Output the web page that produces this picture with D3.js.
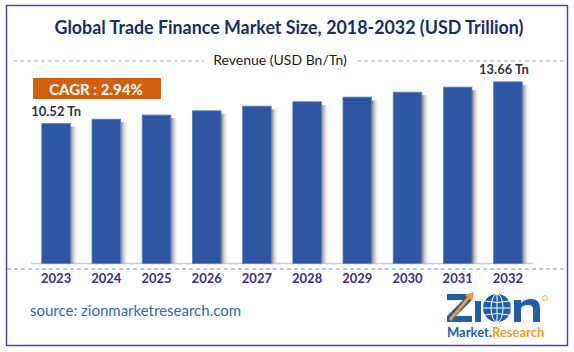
<!DOCTYPE html>
<html>
<head>
<meta charset="utf-8">
<script src="https://cdn.jsdelivr.net/npm/d3@7"></script>
<style>
  body { margin: 0; background: #fff; }
  svg { display: block; }
</style>
</head>
<body>
<div id="chart"></div>
<script>
// data
const years = ["2023", "2024", "2025", "2026", "2027", "2028", "2029", "2030", "2031", "2032"];
const revenue = [10.52, 10.85, 11.16, 11.48, 11.83, 12.16, 12.51, 12.88, 13.26, 13.66];
const valueLabels = [{ i: 0, text: "10.52 Tn" }, { i: 9, text: "13.66 Tn" }];
const titleText = "Global Trade Finance Market Size, 2018-2032 (USD Trillion)";
const subtitleText = "Revenue (USD Bn/Tn)";
const cagrText = "CAGR : 2.94%";
const sourceText = "source: zionmarketresearch.com";

const width = 574, height = 352;
const font = "Lato, 'Open Sans', sans-serif";

const svg = d3.select("#chart").append("svg")
  .attr("width", width)
  .attr("height", height);

const defs = svg.append("defs");
// bar shadow on the right
const grad = defs.append("linearGradient").attr("id", "shadow")
  .attr("x1", "0%").attr("x2", "100%");
grad.append("stop").attr("offset", "0%").attr("stop-color", "#6d6d6d").attr("stop-opacity", 0.9);
grad.append("stop").attr("offset", "100%").attr("stop-color", "#ffffff").attr("stop-opacity", 0);

// outer border
svg.append("rect")
  .attr("x", 6.5).attr("y", 5.5)
  .attr("width", 561).attr("height", 340)
  .attr("fill", "none")
  .attr("stroke", "#5a3ea3")
  .attr("stroke-width", 1.5);

// title
svg.append("text")
  .attr("x", 289).attr("y", 34)
  .attr("text-anchor", "middle")
  .attr("font-family", font)
  .attr("font-weight", "bold")
  .attr("font-size", "19px")
  .attr("fill", "#172e6b")
  .attr("textLength", 469)
  .attr("lengthAdjust", "spacingAndGlyphs")
  .text(titleText);

// subtitle with dashed lines
svg.append("text")
  .attr("x", 280).attr("y", 65)
  .attr("text-anchor", "middle")
  .attr("font-family", font)
  .attr("font-size", "14px")
  .attr("fill", "#1a1a1a")
  .text(subtitleText);

[[13, 204], [357, 564]].forEach(([a, b]) => {
  svg.append("line")
    .attr("x1", a).attr("x2", b)
    .attr("y1", 61).attr("y2", 61)
    .attr("stroke", "#8fb0e3")
    .attr("stroke-width", 1.2)
    .attr("stroke-dasharray", "4,3");
});

// scales
const x = d3.scaleBand()
  .domain(years)
  .range([31, 533])
  .paddingInner(0.43)
  .paddingOuter(0.215);

const y = d3.scaleLinear()
  .domain([0, 14])
  .range([263.5, 263.5 - 14 * 13.3]);

// baseline
svg.append("line")
  .attr("x1", 31).attr("x2", 533)
  .attr("y1", 263.5).attr("y2", 263.5)
  .attr("stroke", "#d0d0d0")
  .attr("stroke-width", 1.5);

// shadows
svg.append("g").selectAll("rect")
  .data(revenue)
  .join("rect")
  .attr("x", (d, i) => x(years[i]) + x.bandwidth())
  .attr("y", (d) => y(d) + 3)
  .attr("width", 8)
  .attr("height", (d) => y(0) - y(d) - 3)
  .attr("fill", "url(#shadow)");

// bars
svg.append("g").selectAll("rect")
  .data(revenue)
  .join("rect")
  .attr("x", (d, i) => x(years[i]))
  .attr("y", (d) => y(d))
  .attr("width", x.bandwidth())
  .attr("height", (d) => y(0) - y(d))
  .attr("fill", "#2f56a5")
  .attr("stroke", "#5b7fc4")
  .attr("stroke-width", 0.8);

// value labels
svg.append("g").selectAll("text")
  .data(valueLabels)
  .join("text")
  .attr("x", (d) => x(years[d.i]) + x.bandwidth() / 2 - (d.i === 9 ? 4 : 0))
  .attr("y", (d) => y(revenue[d.i]) - 8)
  .attr("text-anchor", "middle")
  .attr("font-family", font)
  .attr("font-weight", "bold")
  .attr("font-size", "13px")
  .attr("fill", "#333")
  .text((d) => d.text);

// CAGR box
svg.append("rect")
  .attr("x", 33).attr("y", 78)
  .attr("width", 128).attr("height", 21)
  .attr("fill", "#d2600e");
svg.append("text")
  .attr("x", 96).attr("y", 94.5)
  .attr("text-anchor", "middle")
  .attr("font-family", font)
  .attr("font-weight", "bold")
  .attr("font-size", "15px")
  .attr("fill", "#fff")
  .text(cagrText);

// dashed line under axis
svg.append("line")
  .attr("x1", 7).attr("x2", 567)
  .attr("y1", 269).attr("y2", 269)
  .attr("stroke", "#6f97d8")
  .attr("stroke-width", 1.2)
  .attr("stroke-dasharray", "4,3");

// x axis labels
const xAxis = svg.append("g")
  .attr("transform", "translate(0,270)")
  .call(d3.axisBottom(x).tickSize(0).tickPadding(4));
xAxis.select(".domain").remove();
xAxis.selectAll("text")
  .attr("font-family", font)
  .attr("font-weight", "bold")
  .attr("font-size", "13px")
  .attr("fill", "#3b2d8c");

// source
svg.append("text")
  .attr("x", 30).attr("y", 316)
  .attr("font-family", font)
  .attr("font-size", "15px")
  .attr("fill", "#2f6aa9")
  .text(sourceText);

// logo (drawn as shapes)
const blue = "#1f5fa9", orange = "#f39a1e";
const logo = svg.append("g").attr("transform", "translate(447,293)");
logo.append("path")
  .attr("d", "M0,1 H25 V7 L9,23 H25 V29 H0 V23 L16,7 H0 Z")
  .attr("fill", blue);
logo.append("line")
  .attr("x1", 3).attr("y1", 27).attr("x2", 23).attr("y2", 3)
  .attr("stroke", orange).attr("stroke-width", 3);
logo.append("path")
  .attr("d", "M18,2 L27,-1 L25,8 Z")
  .attr("fill", orange);
logo.append("rect")
  .attr("x", 28).attr("y", 8).attr("width", 6).attr("height", 21)
  .attr("fill", blue);
const globe = logo.append("g").attr("transform", "translate(50,15)");
globe.append("circle").attr("r", 14).attr("fill", blue);
globe.append("ellipse").attr("rx", 6).attr("ry", 14)
  .attr("fill", "none").attr("stroke", "#fff").attr("stroke-width", 1);
globe.append("line").attr("x1", -14).attr("x2", 14)
  .attr("stroke", "#fff").attr("stroke-width", 1);
globe.append("line").attr("y1", -14).attr("y2", 14)
  .attr("stroke", "#fff").attr("stroke-width", 1);
globe.append("path").attr("d", "M-12,-7 Q0,-4 12,-7 M-12,7 Q0,4 12,7")
  .attr("fill", "none").attr("stroke", "#fff").attr("stroke-width", 1);
logo.append("path")
  .attr("d", "M67,29 V7 H74 V10 Q78,6 84,6 Q93,6 93,15 V29 H86 V16 Q86,12 81,12 Q74,12 74,17 V29 Z")
  .attr("fill", blue);
logo.append("circle")
  .attr("cx", 98).attr("cy", 5).attr("r", 2.5)
  .attr("fill", "none").attr("stroke", orange).attr("stroke-width", 0.8);
const tag = logo.append("text")
  .attr("x", 0).attr("y", 44)
  .attr("font-family", font)
  .attr("font-weight", "bold")
  .attr("font-size", "13px");
tag.append("tspan").attr("fill", blue).text("Market.");
tag.append("tspan").attr("fill", orange).text("Research");
</script>
</body>
</html>
